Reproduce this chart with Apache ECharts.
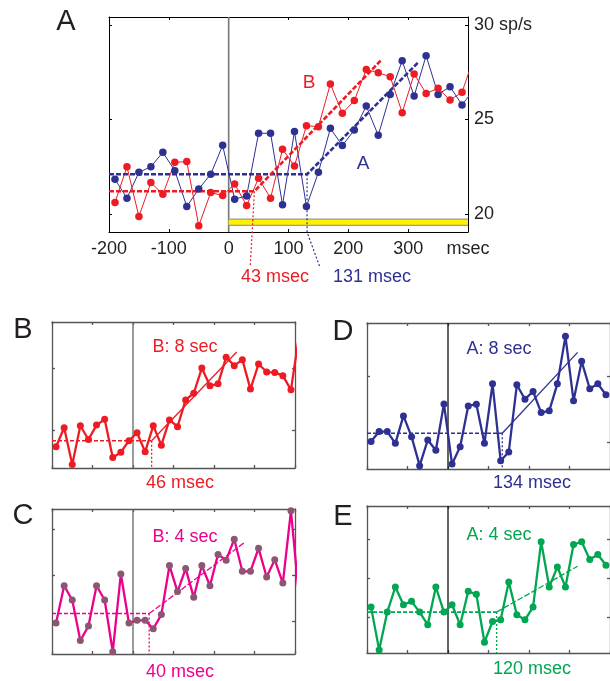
<!DOCTYPE html>
<html><head><meta charset="utf-8">
<script src="https://cdn.jsdelivr.net/npm/echarts@6/dist/echarts.min.js"></script>
<style>html,body{margin:0;padding:0;background:#fff;overflow:hidden}#c{width:610px;height:681px}</style>
</head><body><div id="c"></div>
<script>
// ---------- data ----------
const binsMs = [-190,-170,-150,-130,-110,-90,-70,-50,-30,-10,10,30,50,70,90,110,130,150,170,190,210,230,250,270,290,310,330,350,370,390,410];
const xTickLabels = [-200,-100,0,100,200,300,'msec'];
const aYTicks = [20,25,30];

// Panel A (sp/s)
const aBlue = [21.83,20.83,22.2,22.5,23.26,22.29,20.39,21.32,22.1,23.63,20.78,20.95,24.27,24.27,20.48,24.36,20.39,22.2,24.53,23.62,24.44,25.71,24.16,26.33,28.11,26.24,28.38,26.33,26.74,25.77,26.6];
const aRed  = [20.6,22.5,19.86,21.66,21.04,22.73,22.77,19.37,21.13,20.97,21.58,20.45,21.89,20.83,23.42,22.54,24.67,24.62,26.88,25.33,26.0,27.65,27.48,27.27,25.36,27.41,26.38,26.65,26.03,26.44,28.3];
const aRedFit  = [[-200,21.2],[43,21.2],[255,28.15]];
const aBlueFit = [[-200,22.1],[131,22.1],[316,28.0]];
const aRedLeader  = [[43,21.2],[36,17.18]];
const aBlueLeader = [[131,22.1],[131,19.04],[153,17.13]];
const aStim = [[0,19.56],[400,19.56]];

// Panel B (B: 8 sec)
const bVals = [18.72,20.24,17.30,20.40,19.30,20.45,20.91,17.86,18.29,19.20,19.84,18.32,20.40,18.85,20.86,20.32,22.46,22.99,25.0,23.58,23.74,25.86,25.19,25.67,23.32,25.32,24.68,24.65,24.39,23.26,27.6];
const bFitFlat = [[-200,19.2],[46,19.2]];
const bFitRise = [[46,19.2],[256,26.28]];
const bLatency = 46;

// Panel C (B: 4 sec)
const cVals = [19.82,23.85,22.31,17.91,19.49,23.85,22.31,16.70,25.13,19.82,20.11,20.11,19.19,20.73,26.04,23.22,25.71,22.60,26.04,23.85,27.25,26.63,28.90,25.42,25.42,27.91,24.80,26.67,24.14,31.98,22.6];
const cFitFlat = [[-200,20.84],[40,20.84]];
const cFitRise = [[40,20.84],[275,28.53]];
const cLatency = 40;

// Panel D (A: 8 sec)
const dVals = [20.08,20.83,20.83,19.95,22.0,20.45,18.28,20.2,19.43,22.9,18.4,19.7,22.75,22.88,19.95,24.4,18.65,19.3,24.33,23.25,23.83,22.25,22.38,24.4,27.95,23.13,26.08,24.03,24.4,23.58];
const dFitFlat = [[-200,20.7],[134,20.7]];
const dFitRise = [[134,20.7],[320,26.75]];
const dLatency = 134;

// Panel E (A: 4 sec)
const eVals = [21.29,15.78,20.65,23.88,21.59,22.03,20.65,19.01,23.88,20.65,21.59,19.01,23.32,22.93,16.77,19.44,19.66,24.53,20.30,19.66,21.29,29.70,23.88,26.47,23.88,29.35,29.70,27.41,28.06,26.68];
const eFitFlat = [[-200,20.65],[120,20.65]];
const eFitRise = [[120,20.65],[320,26.55]];
const eLatency = 120;

// ---------- styling ----------
const FONT = "'Liberation Sans', Arial, Helvetica, sans-serif";
const RED = '#ED1C24', BLUE = '#2E3192', MAG = '#EC008C', MAUVE = '#8C5572', GREEN = '#00A651', INK = '#231F20';

const grids = [], xAxes = [], yAxes = [], series = [];

function addPanel(cfg) {
  const gi = grids.length;
  grids.push({left: cfg.box[0], top: cfg.box[1], width: cfg.box[2], height: cfg.box[3], show: false});
  const lineCol = cfg.borderColor, lw = cfg.borderWidth;
  const tick = {show: true, inside: true, length: cfg.tickLen, lineStyle: {color: lineCol, width: lw}};
  const xi = xAxes.length;
  xAxes.push({type: 'value', gridIndex: gi, position: 'bottom', min: -200, max: 400, interval: 100,
    axisLine: {show: true, onZero: false, lineStyle: {color: lineCol, width: lw}},
    axisTick: tick, splitLine: {show: false},
    axisLabel: cfg.xLabels ? {show: true, fontSize: 18, color: INK, fontFamily: FONT, margin: 8,
      formatter: v => String(xTickLabels[Math.round((v + 200) / 100)])} : {show: false}});
  xAxes.push({type: 'value', gridIndex: gi, position: 'top', min: -200, max: 400, interval: 100,
    axisLine: {show: true, onZero: false, lineStyle: {color: lineCol, width: lw}},
    axisTick: tick, splitLine: {show: false}, axisLabel: {show: false}});
  const yi = yAxes.length;
  const yt = Object.assign({}, tick, {customValues: cfg.yTicks});
  yAxes.push({type: 'value', gridIndex: gi, position: 'left', min: cfg.y[0], max: cfg.y[1],
    axisLine: {show: true, onZero: false, lineStyle: {color: lineCol, width: lw}},
    axisTick: yt, splitLine: {show: false}, axisLabel: {show: false}});
  yAxes.push({type: 'value', gridIndex: gi, position: 'right', min: cfg.y[0], max: cfg.y[1],
    axisLine: {show: true, onZero: false, lineStyle: {color: lineCol, width: lw}},
    axisTick: yt, splitLine: {show: false},
    axisLabel: cfg.yLabels ? {show: true, customValues: cfg.yTicks, fontSize: 18, color: INK, fontFamily: FONT, margin: 6,
      formatter: v => (v === 30 ? '30 sp/s' : String(v))} : {show: false}});
  const base = {xAxisIndex: xi, yAxisIndex: yi, silent: true, animation: false};
  series.push(Object.assign({type: 'line', data: [[0, cfg.y[0]], [0, cfg.y[1]]], symbol: 'none',
    lineStyle: {color: cfg.zeroColor, width: cfg.zeroWidth}}, base));
  return base;
}

function pts(vals) { return vals.map((v, i) => [binsMs[i], v]); }

// ----- Panel A -----
const baseA = addPanel({box: [109, 17, 359, 215], y: [19.04, 30.43], yTicks: aYTicks, xLabels: true, yLabels: true,
  borderColor: '#000', borderWidth: 1, tickLen: 3, zeroColor: '#777', zeroWidth: 1.6});
series.push(Object.assign({type: 'line', data: aStim, symbol: 'none', lineStyle: {color: '#9a9a9a', width: 7.5}}, baseA));
series.push(Object.assign({type: 'line', data: aStim, symbol: 'none', lineStyle: {color: '#FFF200', width: 5}}, baseA));
[[aBlue, BLUE], [aRed, RED]].forEach(([v, c]) => {
  series.push(Object.assign({type: 'line', data: pts(v), symbol: 'circle', symbolSize: 7.5, clip: true,
    itemStyle: {color: c}, lineStyle: {color: c, width: 1}}, baseA));
});
[[aBlueFit, BLUE], [aRedFit, RED]].forEach(([d, c]) => {
  series.push(Object.assign({type: 'line', data: d, symbol: 'none', lineStyle: {color: c, width: 2.6, type: [5, 2]}}, baseA));
});
[[aBlueLeader, BLUE], [aRedLeader, RED]].forEach(([d, c]) => {
  series.push(Object.assign({type: 'line', data: d, symbol: 'none', clip: false, lineStyle: {color: c, width: 1.2, type: [2, 2]}}, baseA));
});

// ----- small panels -----
function small(box, y, yTicks, vals, flat, rise, lat, lineC, markC, riseDash, zeroColor) {
  const b = addPanel({box, y, yTicks, xLabels: false, yLabels: false, borderColor: '#555', borderWidth: 1.3, tickLen: 3,
    zeroColor: zeroColor, zeroWidth: 1.3});
  series.push(Object.assign({type: 'line', data: pts(vals), symbol: 'circle', symbolSize: 7, clip: true,
    itemStyle: {color: markC}, lineStyle: {color: lineC, width: 2.3}}, b));
  series.push(Object.assign({type: 'line', data: flat, symbol: 'none', lineStyle: {color: lineC, width: 1.6, type: [4, 2]}}, b));
  series.push(Object.assign({type: 'line', data: rise, symbol: 'none', lineStyle: {color: lineC, width: 1.3, type: riseDash}}, b));
  series.push(Object.assign({type: 'line', data: [[lat, flat[1][1]], [lat, y[0]]], symbol: 'none', clip: false,
    lineStyle: {color: lineC, width: 1.3, type: [2, 2]}}, b));
}
small([52, 322, 243, 146], [17.03, 28.67], [20, 25], bVals, bFitFlat, bFitRise, bLatency, RED, RED, 'solid', '#666');
small([367, 323, 245, 146], [18.03, 28.95], [20, 25], dVals, dFitFlat, dFitRise, dLatency, BLUE, BLUE, 'solid', '#111');
small([52, 509, 243, 145], [16.46, 32.17], [20, 25, 30], cVals, cFitFlat, cFitRise, cLatency, MAG, MAUVE, [6, 2], '#666');
small([367, 506, 245, 147], [15.38, 34.31], [20, 25, 30], eVals, eFitFlat, eFitRise, eLatency, GREEN, GREEN, [6, 2], '#111');

// ---------- text ----------
function txt(x, y, s, color, size) {
  return {type: 'text', x: x, y: y, style: {text: s, fill: color, font: size + 'px ' + FONT, textAlign: 'center', textVerticalAlign: 'middle'}, silent: true};
}
const graphic = [
  txt(66, 22, 'A', INK, 29), txt(23, 330, 'B', INK, 29), txt(343, 332, 'D', INK, 29),
  txt(23, 516, 'C', INK, 29), txt(343, 517, 'E', INK, 29),
  txt(309, 83, 'B', RED, 19), txt(363, 164, 'A', BLUE, 19),
  txt(275, 277, '43 msec', RED, 18), txt(372, 277, '131 msec', BLUE, 18),
  txt(185, 347, 'B: 8 sec', RED, 18), txt(180, 483, '46 msec', RED, 18),
  txt(499, 349, 'A: 8 sec', BLUE, 18), txt(532, 483, '134 msec', BLUE, 18),
  txt(185, 537, 'B: 4 sec', MAG, 18), txt(180, 672, '40 msec', MAG, 18),
  txt(499, 535, 'A: 4 sec', GREEN, 18), txt(532, 669, '120 msec', GREEN, 18)
];

const chart = echarts.init(document.getElementById('c'), null, {renderer: 'canvas'});
chart.setOption({animation: false, backgroundColor: '#fff', grid: grids, xAxis: xAxes, yAxis: yAxes, series: series, graphic: graphic});
</script></body></html>
